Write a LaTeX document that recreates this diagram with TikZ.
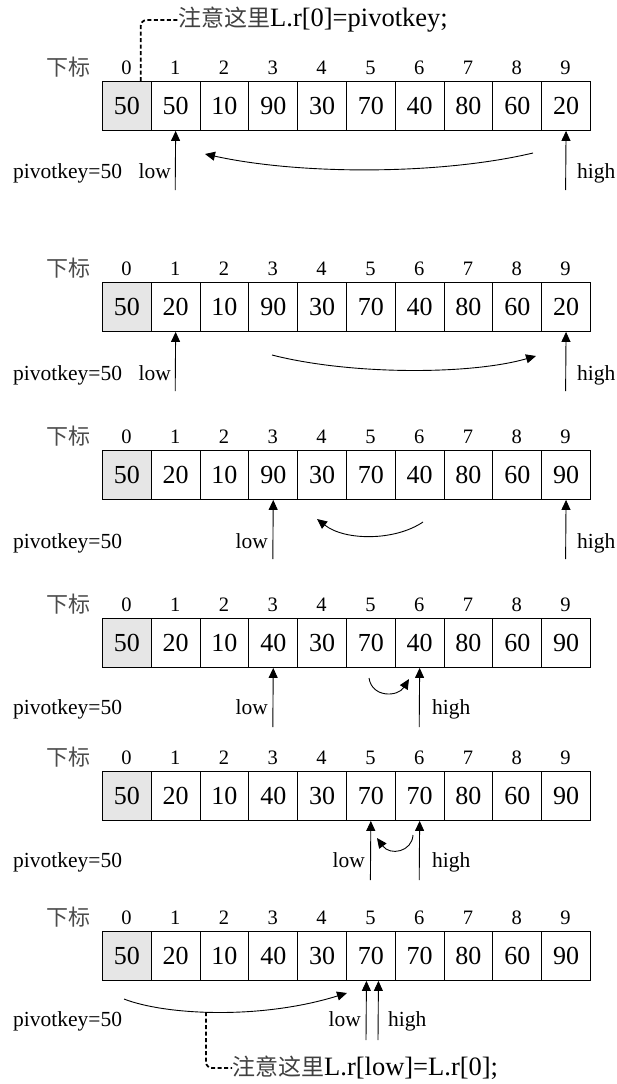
\documentclass[tikz,border=0pt]{standalone}
\usepackage{fontspec}
\setmainfont{Liberation Serif}
\newfontfamily\cjk{Noto Sans CJK SC}
\usetikzlibrary{arrows.meta}
\definecolor{cellgray}{HTML}{E6E6E6}
\begin{document}
\begin{tikzpicture}[x=1pt,y=-1pt,
  cell/.style={draw, line width=0.9pt, minimum width=48.8pt, minimum height=49pt,
    inner sep=0pt, anchor=north west, font=\fontsize{26}{26}\selectfont},
  idx/.style={font=\fontsize{20.5}{20.5}\selectfont, inner sep=0pt, anchor=base},
  sub/.style={font=\cjk\fontsize{22}{22}\selectfont, text=black!70, inner sep=0pt},
  lbl/.style={font=\fontsize{21.5}{21.5}\selectfont, inner sep=0pt},
  ptr/.style={line width=0.9pt, -{Triangle[length=10pt,width=9pt]}},
  swing/.style={line width=0.9pt, -{Triangle[length=10pt,width=9pt]}},
  note/.style={line width=1.8pt, dash pattern=on 4pt off 2.5pt, rounded corners=6pt},
  notetext/.style={font=\fontsize{26.5}{26.5}\selectfont, inner sep=0pt, anchor=west}
]
\useasboundingbox (0,0) rectangle (616,1084);

\foreach \r/\top/\vals in {
  1/81/{50,50,10,90,30,70,40,80,60,20},
  2/282/{50,20,10,90,30,70,40,80,60,20},
  3/450/{50,20,10,90,30,70,40,80,60,90},
  4/618/{50,20,10,40,30,70,40,80,60,90},
  5/771/{50,20,10,40,30,70,70,80,60,90},
  6/931/{50,20,10,40,30,70,70,80,60,90}}{
  \node[sub] (sub\r) at (68,\top-14) {下标};
  \foreach \v [count=\i from 0] in \vals {
    \ifnum\i=0
      \node[cell, fill=cellgray] (c\r-\i) at ({102+48.8*\i},\top) {\v};
    \else
      \node[cell] (c\r-\i) at ({102+48.8*\i},\top) {\v};
    \fi
    \node[idx] (i\r-\i) at ({102+48.8*(\i+0.5)},\top-7) {\i};
  }
}

% row 1
\coordinate (l1) at (175.2,190);
\coordinate (h1) at (565.6,190);
\draw[ptr] (l1) -- (c1-1.south);
\draw[ptr] (h1) -- (c1-9.south);
\node[lbl, anchor=base east] (low1) at (171,178) {low};
\node[lbl, anchor=base west] (high1) at (577,178) {high};
\node[lbl, anchor=base west] (pk1) at (13,178) {pivotkey=50};
\coordinate (s1a) at (533,153);
\coordinate (s1b) at (205,154);
\draw[swing] (s1a) .. controls (440,175) and (300,175) .. (s1b);
\node[notetext] (note1) at (178,20) {{\cjk\fontsize{23}{23}\selectfont\color{black!75}注意这里}L.r[0]=pivotkey;};
\coordinate (n1) at (140.7,81);
\draw[note] (n1) |- (note1.west);

% row 2
\coordinate (l2) at (175.2,391);
\coordinate (h2) at (565.6,391);
\draw[ptr] (l2) -- (c2-1.south);
\draw[ptr] (h2) -- (c2-9.south);
\node[lbl, anchor=base east] (low2) at (171,380) {low};
\node[lbl, anchor=base west] (high2) at (577,380) {high};
\node[lbl, anchor=base west] (pk2) at (13,380) {pivotkey=50};
\coordinate (s2a) at (272,355);
\coordinate (s2b) at (536,356);
\draw[swing] (s2a) .. controls (350,375) and (470,375) .. (s2b);

% row 3
\coordinate (l3) at (272.8,559);
\coordinate (h3) at (565.6,559);
\draw[ptr] (l3) -- (c3-3.south);
\draw[ptr] (h3) -- (c3-9.south);
\node[lbl, anchor=base east] (low3) at (268,548) {low};
\node[lbl, anchor=base west] (high3) at (577,548) {high};
\node[lbl, anchor=base west] (pk3) at (13,548) {pivotkey=50};
\coordinate (s3a) at (423,522);
\coordinate (s3b) at (317,519);
\draw[swing] (s3a) .. controls (395,541) and (345,541) .. (s3b);

% row 4
\coordinate (l4) at (272.8,727);
\coordinate (h4) at (419.2,727);
\draw[ptr] (l4) -- (c4-3.south);
\draw[ptr] (h4) -- (c4-6.south);
\node[lbl, anchor=base east] (low4) at (268,714) {low};
\node[lbl, anchor=base west] (high4) at (432,714) {high};
\node[lbl, anchor=base west] (pk4) at (13,714) {pivotkey=50};
\coordinate (s4a) at (369,678);
\coordinate (s4b) at (409,679);
\draw[swing] (s4a) .. controls (372,698) and (398,697) .. (s4b);

% row 5
\coordinate (l5) at (370.4,880);
\coordinate (h5) at (419.2,880);
\draw[ptr] (l5) -- (c5-5.south);
\draw[ptr] (h5) -- (c5-6.south);
\node[lbl, anchor=base east] (low5) at (365,867) {low};
\node[lbl, anchor=base west] (high5) at (432,867) {high};
\node[lbl, anchor=base west] (pk5) at (13,867) {pivotkey=50};
\coordinate (s5a) at (413,835);
\coordinate (s5b) at (377,838);
\draw[swing] (s5a) .. controls (412,852) and (390,856) .. (s5b);

% row 6
\coordinate (l6) at (366,1040);
\coordinate (h6) at (378,1040);
\draw[ptr] (l6) -- ([xshift=-4.4pt]c6-5.south);
\draw[ptr] (h6) -- ([xshift=7.6pt]c6-5.south);
\node[lbl, anchor=base east] (low6) at (361,1026) {low};
\node[lbl, anchor=base west] (high6) at (388,1026) {high};
\node[lbl, anchor=base west] (pk6) at (13,1026) {pivotkey=50};
\coordinate (s6a) at (124,999);
\coordinate (s6b) at (347,993);
\draw[swing] (s6a) .. controls (165,1015) and (260,1020) .. (s6b);
\node[notetext] (note6) at (232,1068) {{\cjk\fontsize{23}{23}\selectfont\color{black!75}注意这里}L.r[low]=L.r[0];};
\coordinate (n6) at (206,1012);
\draw[note] (n6) |- (note6.west);
\end{tikzpicture}
\end{document}
